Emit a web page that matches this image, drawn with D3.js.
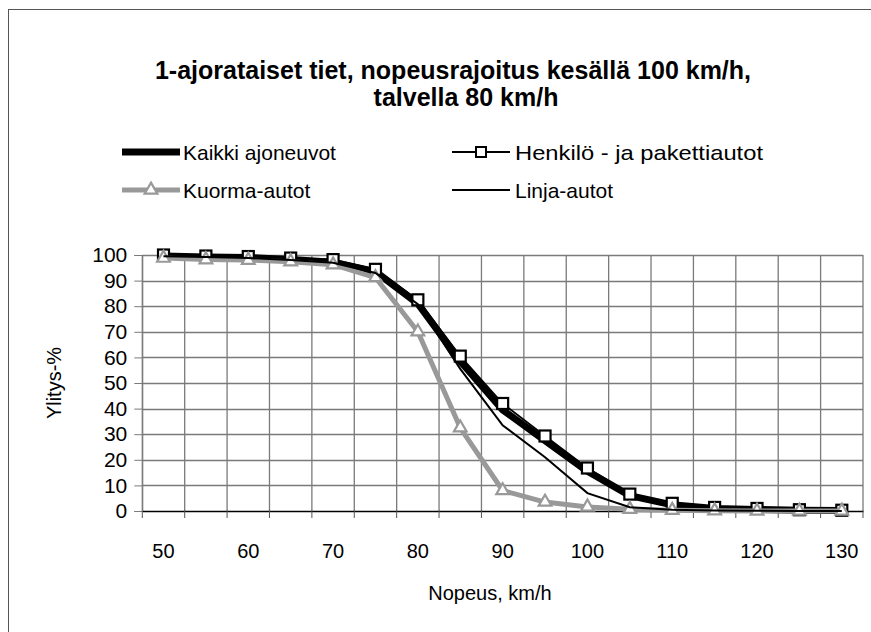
<!DOCTYPE html>
<html><head><meta charset="utf-8">
<script src="https://cdn.jsdelivr.net/npm/d3@7"></script>
<style>body{margin:0;background:#fff}svg{display:block}text{font-family:"Liberation Sans",Arial,sans-serif;fill:#000}</style>
</head><body><svg id="c" width="871" height="632"></svg>
<script>
const categories = [50,55,60,65,70,75,80,85,90,95,100,105,110,115,120,125,130];
const xTickLabels = [50,60,70,80,90,100,110,120,130];
const yTicks = [0,10,20,30,40,50,60,70,80,90,100];
const kaikki  = [99.6,99.2,99.0,98.2,97.2,93.5,81.0,58.5,39.5,27.5,15.5,6.0,2.4,1.0,0.6,0.3,0.2];
const henkilo = [100,99.6,99.4,98.8,98.2,94.4,82.5,60.5,42.0,29.3,16.8,6.6,3.0,1.4,1.0,0.5,0.3];
const kuorma  = [98.8,98.2,98.0,97.4,96.2,91.2,70.0,32.5,8.0,3.5,1.6,0.7,0.3,0.1,0.0,0.0,0.0];
const linja   = [99.5,99.2,98.8,98.0,97.0,93.0,80.8,55.5,33.5,21.0,7.0,1.5,0.5,0.2,0.1,0.0,0.0];
const titleLines = ["1-ajorataiset tiet, nopeusrajoitus kesällä 100 km/h,","talvella 80 km/h"];

const svg = d3.select("#c");
// chart frame
svg.append("rect").attr("x",8.5).attr("y",9.5).attr("width",900).attr("height",700)
  .attr("fill","none").attr("stroke","#555").attr("stroke-width",1);

const L=142.3, R=863, T=255, B=511;
const x = d3.scaleBand().domain(categories).range([L,R]).padding(0);
const y = d3.scaleLinear().domain([0,100]).range([B,T]);
const cx = d => x(d)+x.bandwidth()/2;

// gridlines
const g = svg.append("g");
g.selectAll("line.h").data(yTicks.filter(v=>v>0)).join("line")
  .attr("x1",L).attr("x2",R).attr("y1",d=>Math.round(y(d))+0.5).attr("y2",d=>Math.round(y(d))+0.5)
  .attr("stroke","#7a7a7a").attr("stroke-width",1.3);
const bounds = categories.map(c=>x(c)).concat([R]);
g.selectAll("line.v").data(bounds).join("line")
  .attr("x1",d=>d).attr("x2",d=>d).attr("y1",T).attr("y2",B)
  .attr("stroke","#7a7a7a").attr("stroke-width",1.3);

// y axis
const yAxis = svg.append("g").attr("transform",`translate(${L},0)`)
  .call(d3.axisLeft(y).tickValues(yTicks).tickSize(8).tickPadding(7));
yAxis.select(".domain").attr("stroke","#7a7a7a");
yAxis.selectAll(".tick line").attr("stroke","#7a7a7a");
yAxis.selectAll("text").attr("font-size",21).style("font-family","Liberation Sans, Arial, sans-serif");

// x axis
const xAxis = svg.append("g").attr("transform",`translate(0,${B})`)
  .call(d3.axisBottom(x).tickValues(xTickLabels).tickSize(0).tickPadding(33));
xAxis.select(".domain").attr("stroke","#000").attr("stroke-width",1.5);
xAxis.selectAll("text").attr("font-size",20).style("font-family","Liberation Sans, Arial, sans-serif");
svg.append("g").selectAll("line").data(bounds).join("line")
  .attr("x1",d=>d).attr("x2",d=>d).attr("y1",B).attr("y2",B+7).attr("stroke","#555");

// series
const line = arr => d3.line().x((d,i)=>cx(categories[i])).y(d=>y(d))(arr);
svg.append("path").attr("d",line(kaikki)).attr("fill","none").attr("stroke","#000").attr("stroke-width",7).attr("stroke-linejoin","round");
svg.append("path").attr("d",line(henkilo)).attr("fill","none").attr("stroke","#000").attr("stroke-width",1.8);
svg.append("g").selectAll("rect").data(henkilo).join("rect")
  .attr("x",(d,i)=>cx(categories[i])-5.5).attr("y",d=>y(d)-5.5).attr("width",11).attr("height",11)
  .attr("fill","#fff").attr("stroke","#000").attr("stroke-width",2.2);
svg.append("path").attr("d",line(kuorma)).attr("fill","none").attr("stroke","#999").attr("stroke-width",5).attr("stroke-linejoin","round");
const tri = d3.symbol().type(d3.symbolTriangle).size(70);
svg.append("g").selectAll("path").data(kuorma).join("path")
  .attr("d",tri).attr("transform",(d,i)=>`translate(${cx(categories[i])},${y(d)})`)
  .attr("fill","#fff").attr("stroke","#999").attr("stroke-width",2.2);
svg.append("path").attr("d",line(linja)).attr("fill","none").attr("stroke","#000").attr("stroke-width",2);

// title
svg.append("text").attr("x",453).attr("y",79).attr("text-anchor","middle").attr("font-size",25).attr("font-weight","bold").text(titleLines[0]);
svg.append("text").attr("x",466).attr("y",106).attr("text-anchor","middle").attr("font-size",25).attr("font-weight","bold").text(titleLines[1]);

// legend
const leg = svg.append("g");
const ly1=152, ly2=190;
leg.append("line").attr("x1",122).attr("x2",180).attr("y1",ly1).attr("y2",ly1).attr("stroke","#000").attr("stroke-width",7);
leg.append("text").attr("x",183).attr("y",ly1+8).attr("font-size",21).text("Kaikki ajoneuvot");
leg.append("line").attr("x1",452).attr("x2",510).attr("y1",ly1).attr("y2",ly1).attr("stroke","#000").attr("stroke-width",1.8);
leg.append("rect").attr("x",476).attr("y",ly1-5).attr("width",10).attr("height",10).attr("fill","#fff").attr("stroke","#000").attr("stroke-width",2);
leg.append("text").attr("x",515).attr("y",ly1+8).attr("font-size",21).attr("textLength",248).attr("lengthAdjust","spacingAndGlyphs").text("Henkilö - ja pakettiautot");
leg.append("line").attr("x1",122).attr("x2",180).attr("y1",ly2).attr("y2",ly2).attr("stroke","#999").attr("stroke-width",5);
leg.append("path").attr("d",tri).attr("transform",`translate(151,${ly2})`).attr("fill","#fff").attr("stroke","#999").attr("stroke-width",2.2);
leg.append("text").attr("x",183).attr("y",ly2+8).attr("font-size",21).text("Kuorma-autot");
leg.append("line").attr("x1",452).attr("x2",510).attr("y1",ly2).attr("y2",ly2).attr("stroke","#000").attr("stroke-width",2);
leg.append("text").attr("x",515).attr("y",ly2+8).attr("font-size",21).text("Linja-autot");

// axis titles
svg.append("text").attr("x",490).attr("y",600).attr("text-anchor","middle").attr("font-size",20).text("Nopeus, km/h");
svg.append("text").attr("transform","translate(61,383) rotate(-90)").attr("text-anchor","middle").attr("font-size",20).text("Ylitys-%");
</script></body></html>
